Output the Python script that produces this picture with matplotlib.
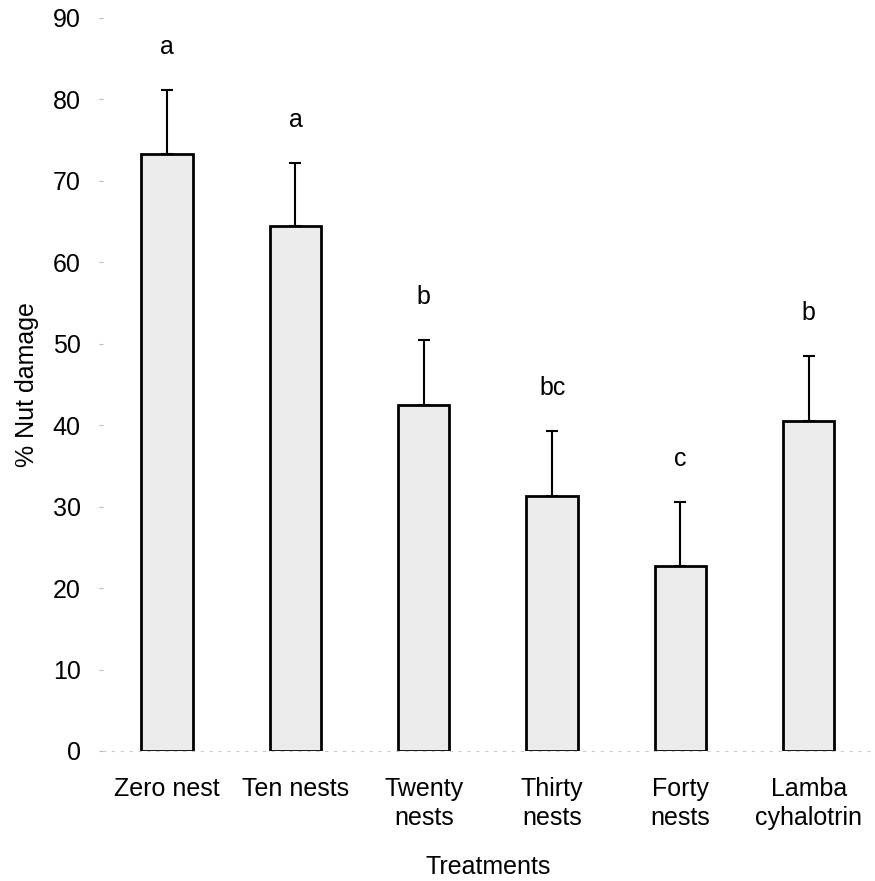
import numpy as np
import matplotlib.pyplot as plt

plt.rcParams['font.family'] = ['Liberation Sans', 'DejaVu Sans']

treatments = ['Zero nest', 'Ten nests', 'Twenty\nnests', 'Thirty\nnests',
              'Forty\nnests', 'Lamba\ncyhalotrin']
damage = [73.3, 64.4, 42.5, 31.3, 22.7, 40.5]
se = [7.9, 7.8, 7.9, 8.0, 7.9, 8.0]
groups = ['a', 'a', 'b', 'bc', 'c', 'b']

fig = plt.figure(figsize=(8.75, 8.81), dpi=100)
ax = fig.add_axes([0.1177, 0.1476, 0.88, 0.8320])

x = np.arange(len(treatments))
ax.bar(x, damage, width=0.4, color='#ececec', edgecolor='black', linewidth=2,
       zorder=2)
ax.errorbar(x, damage, yerr=[np.zeros(len(se)), se], fmt='none',
            ecolor='black', elinewidth=1.5, capsize=4, capthick=1.5, zorder=3)

# significance letters above each error bar
for xi, m, e, g in zip(x, damage, se, groups):
    ax.annotate(g, (xi, m + e), xytext=(0, 31), textcoords='offset points',
                ha='center', va='center', fontsize=18)

ax.set_xlim(-0.5, 5.5)
ax.set_ylim(0, 90)
ax.set_yticks(np.arange(0, 91, 10))
ax.set_xticks(x)
ax.set_xticklabels(treatments, fontsize=18, linespacing=1.25)
ax.tick_params(axis='y', labelsize=18, length=3, color='#bbbbbb', pad=13)
ax.tick_params(axis='x', length=0, pad=19)

for side in ['top', 'right', 'left']:
    ax.spines[side].set_visible(False)
ax.spines['bottom'].set_color('#cccccc')
ax.spines['bottom'].set_linestyle((0, (2, 6)))

ax.set_ylabel('% Nut damage', fontsize=18, labelpad=10)
ax.set_xlabel('Treatments', fontsize=18, labelpad=18)

fig.savefig('out.png', dpi=100)
